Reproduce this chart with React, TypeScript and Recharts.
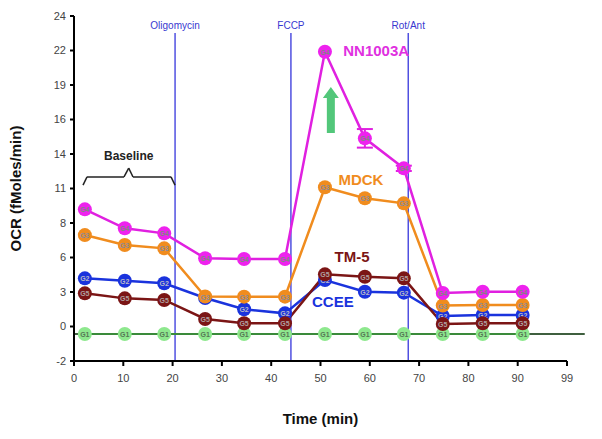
import React from 'react';
import { LineChart, Line, XAxis, YAxis, ReferenceLine, ReferenceDot, ErrorBar } from 'recharts';

// time points (min)
const TIME = [2.2, 10.3, 18.3, 26.6, 34.5, 42.8, 50.9, 59.0, 66.9, 74.8, 82.9, 91.0];

// OCR per group, in the plot's own axis units
const NN1003A = [9.43, 8.0, 7.62, 5.74, 5.69, 5.69, 21.31, 14.78, 12.52, 3.12, 3.22, 3.22];
const NN_ERR = [0, 0, 0, 0, 0, 0, 0, 0.7, 0.2, 0, 0, 0];
const MDCK = [7.49, 6.74, 6.49, 2.86, 2.85, 2.85, 11.09, 10.26, 9.88, 2.18, 2.22, 2.22];
const CCEE = [4.23, 4.05, 3.86, 2.75, 1.9, 1.59, 4.1, 3.22, 3.15, 1.39, 1.47, 1.47];
const TM5 = [3.1, 2.72, 2.6, 1.17, 0.84, 0.84, 4.53, 4.35, 4.23, 0.79, 0.84, 0.84];
const G1 = [0.03, 0.03, 0.03, 0.03, 0.03, 0.03, 0.03, 0.03, 0.03, 0.03, 0.03, 0.03];

const X_TICK_LABELS = ['0', '10', '20', '30', '40', '50', '60', '70', '80', '90', '99'];
const Y_TICK_LABELS = ['-2', '0', '3', '6', '8', '11', '14', '16', '19', '22', '24'];

const INJECTIONS = [
  { name: 'Oligomycin', x: 20.5 },
  { name: 'FCCP', x: 44 },
  { name: 'Rot/Ant', x: 67.8 },
];

const GROUP_LABELS = [
  { text: 'NN1003A', x: 61.3, y: 21.36, color: '#e030e0' },
  { text: 'MDCK', x: 58.2, y: 11.64, color: '#f08c1e' },
  { text: 'TM-5', x: 56.4, y: 5.84, color: '#7b1515' },
  { text: 'CCEE', x: 52.5, y: 2.45, color: '#1a33dd' },
];

// curly brace over the baseline measurements
const BRACE = [
  [1.83, 11.26, 2.64, 11.87],
  [2.64, 11.87, 10.14, 11.87],
  [10.14, 11.87, 11.1, 12.54],
  [11.1, 12.54, 11.97, 11.87],
  [11.97, 11.87, 19.68, 11.87],
  [19.68, 11.87, 20.49, 11.26],
];

const Y_MIN = -2;
const Y_STEP = 2.6;
const yTicks = Y_TICK_LABELS.map((_, i) => Y_MIN + i * Y_STEP);
const xTicks = X_TICK_LABELS.map((_, i) => i * 10);

const data = TIME.map((t, i) => ({
  t,
  nn: NN1003A[i],
  nnErr: NN_ERR[i],
  mdck: MDCK[i],
  ccee: CCEE[i],
  tm5: TM5[i],
  g1: G1[i],
}));

const FONT = '"Liberation Sans", Arial, sans-serif';

function makeDot(fill: string, tag: string, textColor: string) {
  return (props: any) => {
    const { cx, cy, index } = props;
    if (cx == null || cy == null) return <g key={`d-${tag}-${index}`} />;
    return (
      <g key={`d-${tag}-${index}`}>
        <circle cx={cx} cy={cy} r={7} fill={fill} />
        <text x={cx} y={cy + 3} fontSize={7} fontWeight="bold" textAnchor="middle" fill={textColor} fontFamily={FONT}>
          {tag}
        </text>
      </g>
    );
  };
}

const Arrow = (props: any) => {
  const { cx, cy } = props;
  if (cx == null || cy == null) return <g />;
  const pts = [
    [cx - 4, cy + 23],
    [cx + 4, cy + 23],
    [cx + 4, cy - 12],
    [cx + 8, cy - 12],
    [cx, cy - 23],
    [cx - 8, cy - 12],
    [cx - 4, cy - 12],
  ].map(p => p.join(',')).join(' ');
  return <polygon points={pts} fill="#52c77a" />;
};

export default function App() {
  return (
    <div style={{ position: 'absolute', left: 0, top: 0, width: 602, height: 439, background: '#fff' }}>
      <LineChart width={602} height={439} data={data} margin={{ top: 16, right: 35, bottom: 48, left: 34 }} style={{ fontFamily: FONT }}>
        <XAxis
          dataKey="t"
          type="number"
          domain={[0, 100]}
          ticks={xTicks}
          tickFormatter={(v: number) => X_TICK_LABELS[Math.round(v / 10)]}
          height={30}
          tickSize={5}
          tickMargin={8}
          axisLine={{ stroke: '#000', strokeWidth: 2 }}
          tickLine={{ stroke: '#000', strokeWidth: 2 }}
          tick={{ fontSize: 11, fill: '#444' }}
          label={{ value: 'Time (min)', position: 'bottom', offset: 22, fontSize: 15, fontWeight: 'bold', fill: '#111' }}
        />
        <YAxis
          type="number"
          domain={[-2, 24]}
          ticks={yTicks}
          tickFormatter={(v: number) => Y_TICK_LABELS[Math.round((v - Y_MIN) / Y_STEP)]}
          width={40}
          tickSize={4}
          tickMargin={4}
          axisLine={{ stroke: '#000', strokeWidth: 2 }}
          tickLine={{ stroke: '#000', strokeWidth: 2 }}
          tick={{ fontSize: 11, fill: '#444' }}
          label={{ value: 'OCR (fMoles/min)', angle: -90, position: 'insideLeft', offset: -18, fontSize: 15, fontWeight: 'bold', fill: '#111', style: { textAnchor: 'middle' } }}
        />
        <ReferenceLine
          segment={[{ x: 0, y: 0.03 }, { x: 103.6, y: 0.03 }]}
          ifOverflow="visible"
          stroke="#3f5f3f"
          strokeWidth={2}
        />
        {INJECTIONS.map(inj => (
          <ReferenceLine
            key={inj.name}
            segment={[{ x: inj.x, y: 22.72 }, { x: inj.x, y: -2 }]}
            stroke="#5050e0"
            strokeWidth={1.5}
            label={{ value: inj.name, position: 'top', offset: 4, fontSize: 10, fill: '#3838d0' }}
          />
        ))}
        {BRACE.map((s, i) => (
          <ReferenceLine key={`b${i}`} segment={[{ x: s[0], y: s[1] }, { x: s[2], y: s[3] }]} stroke="#222" strokeWidth={1.5} />
        ))}
        <ReferenceDot x={11.1} y={13.45} r={0} fill="none" stroke="none"
          label={{ value: 'Baseline', position: 'center', fontSize: 12, fontWeight: 'bold', fill: '#222' }} />
        {GROUP_LABELS.map(g => (
          <ReferenceDot key={g.text} x={g.x} y={g.y} r={0} fill="none" stroke="none"
            label={{ value: g.text, position: 'center', fontSize: 15, fontWeight: 'bold', fill: g.color }} />
        ))}
        <ReferenceDot x={52.1} y={16.91} r={10} shape={Arrow} />

        <Line dataKey="g1" stroke="#3a8a3a" strokeWidth={2} dot={makeDot('#8ee88e', 'G1', '#557755')} activeDot={false} isAnimationActive={false} />
        <Line dataKey="ccee" stroke="#1a33dd" strokeWidth={2.5} dot={makeDot('#1a33dd', 'G2', '#b8b8c8')} activeDot={false} isAnimationActive={false} />
        <Line dataKey="tm5" stroke="#7b1515" strokeWidth={2.5} dot={makeDot('#7b1515', 'G5', '#b0a0a0')} activeDot={false} isAnimationActive={false} />
        <Line dataKey="mdck" stroke="#f08c1e" strokeWidth={2.5} dot={makeDot('#f08c1e', 'G3', '#8a8a9a')} activeDot={false} isAnimationActive={false} />
        <Line dataKey="nn" stroke="#e020e0" strokeWidth={2.5} dot={makeDot('#ee22ee', 'G4', '#7a8a7a')} activeDot={false} isAnimationActive={false}>
          <ErrorBar dataKey="nnErr" direction="y" width={8} stroke="#e020e0" strokeWidth={2} />
        </Line>
      </LineChart>
    </div>
  );
}
